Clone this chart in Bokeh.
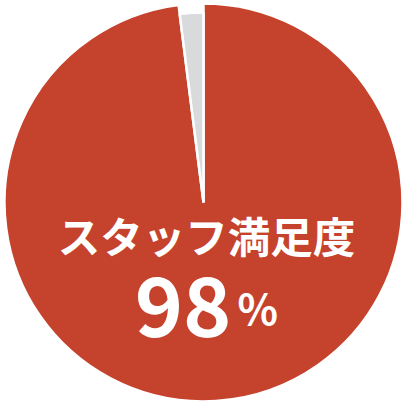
from math import pi

from bokeh.plotting import figure
from bokeh.core.properties import value
from bokeh.embed import file_html
from bokeh.resources import INLINE

# data
labels = ["満足", "その他"]
shares = [98, 2]
colors = ["#C5432D", "#D9DADB"]
title_text = "スタッフ満足度"
value_text = "98"
unit_text = "%"

# angles, clockwise from 12 o'clock
starts = []
ends = []
acc = 0
for s in shares:
    starts.append(pi / 2 - acc / sum(shares) * 2 * pi)
    acc += s
    ends.append(pi / 2 - acc / sum(shares) * 2 * pi)

p = figure(width=406, height=406, x_range=(0, 406), y_range=(0, 406),
           toolbar_location=None, output_backend="svg", min_border=0,
           outline_line_color=None)
p.axis.visible = False
p.grid.grid_line_color = None
p.background_fill_color = None
p.border_fill_color = None

cx, cy = 203, 204
radii = [199, 190]
for i in range(len(shares)):
    p.wedge(x=cx, y=cy, radius=radii[i], start_angle=starts[i], end_angle=ends[i],
            direction="clock", fill_color=colors[i], line_color="white", line_width=2.5)

p.text(x=[206], y=[172], text=[title_text], text_color="white",
       text_font=value("Noto Sans CJK JP"), text_font_style="bold",
       text_font_size="42.5px", text_align="center", text_baseline="middle")
p.text(x=[231], y=[100], text=[value_text], text_color="white",
       text_font=value("Noto Sans CJK JP"), text_font_style="bold",
       text_font_size="82px", text_align="right", text_baseline="alphabetic")
p.text(x=[237], y=[100], text=[unit_text], text_color="white",
       text_font=value("Noto Sans CJK JP"), text_font_style="bold",
       text_font_size="42px", text_align="left", text_baseline="alphabetic")

open("out.html", "w").write(file_html(p, INLINE))
